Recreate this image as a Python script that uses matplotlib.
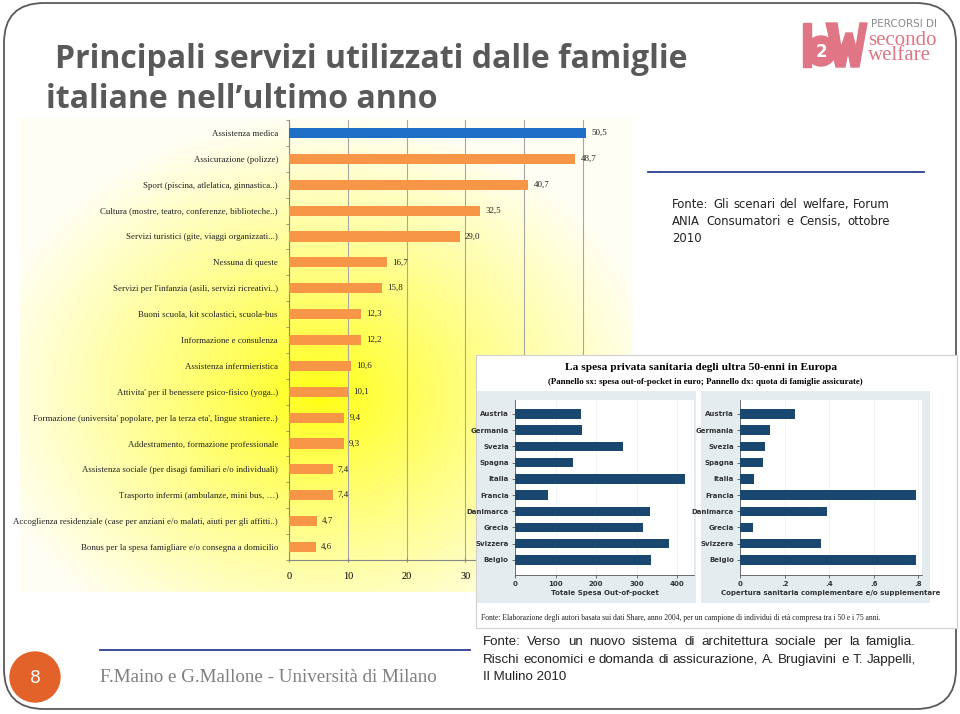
import matplotlib.pyplot as plt
import numpy as np
from matplotlib.patches import FancyBboxPatch, Rectangle, Circle, Polygon
from matplotlib.colors import to_rgb

W, H = 960, 714

# grafico principale (Censis/ANIA 2010)
servizi = [
    'Assistenza medica',
    'Assicurazione (polizze)',
    'Sport (piscina, atlelatica, ginnastica..)',
    'Cultura (mostre, teatro, conferenze, biblioteche..)',
    'Servizi turistici (gite, viaggi organizzati...)',
    'Nessuna di queste',
    "Servizi per l'infanzia (asili, servizi ricreativi..)",
    'Buoni scuola, kit scolastici, scuola-bus',
    'Informazione e consulenza',
    'Assistenza infermieristica',
    "Attivita' per il benessere psico-fisico (yoga..)",
    "Formazione (universita' popolare, per la terza eta', lingue straniere..)",
    'Addestramento, formazione professionale',
    'Assistenza sociale (per disagi familiari e/o individuali)',
    'Trasporto infermi (ambulanze, mini bus, \u2026)',
    'Accoglienza residenziale (case per anziani e/o malati, aiuti per gli affitti..)',
    'Bonus per la spesa famigliare e/o consegna a domicilio',
]
quote = [50.5, 48.7, 40.7, 32.5, 29.0, 16.7, 15.8, 12.3, 12.2, 10.6,
         10.1, 9.4, 9.3, 7.4, 7.4, 4.7, 4.6]

# inserto SHARE 2004
paesi = ['Austria', 'Germania', 'Svezia', 'Spagna', 'Italia', 'Francia',
         'Danimarca', 'Grecia', 'Svizzera', 'Belgio']
spesa_oop = [162, 164, 267, 142, 420, 81, 333, 316, 380, 334]
copertura = [0.246, 0.134, 0.114, 0.102, 0.063, 0.788, 0.391, 0.058, 0.363, 0.788]

fig = plt.figure(figsize=(9.6, 7.14), dpi=100)


def px_axes(x0, y0, x1, y1, **kw):
    return fig.add_axes([x0 / W, 1 - y1 / H, (x1 - x0) / W, (y1 - y0) / H], **kw)


def justify(ax, line, x0, x1, y, **kw):
    r = fig.canvas.get_renderer()
    ts = [ax.text(0, y, w, va='baseline', **kw) for w in line.split()]
    ws = [t.get_window_extent(r).width for t in ts]
    gap = (x1 - x0 - sum(ws)) / (len(ws) - 1)
    x = x0
    for t, w in zip(ts, ws):
        t.set_x(x)
        x += w + gap


base = px_axes(0, 0, W, H)
base.axis('off')

# sfondo giallo sfumato
gx, gy = np.meshgrid(np.arange(20, 632), np.arange(118, 592))
d = np.clip(np.sqrt(((gx - 320) / 340) ** 2 + ((gy - 395) / 280) ** 2), 0, 1) ** 0.85
yellow = np.array(to_rgb('#ffff10'))
cream = np.array(to_rgb('#fffef4'))
img = yellow * (1 - d[..., None]) + cream * d[..., None]
base.imshow(img, extent=(20, 632, 592, 118), aspect='auto', zorder=0)
base.set_xlim(0, W)
base.set_ylim(H, 0)

base.add_patch(FancyBboxPatch((4, 3), 952, 706, boxstyle='round,pad=0,rounding_size=40',
                              fc='none', ec='#5a5a5a', lw=1.3, zorder=5))

base.text(55, 60, 'Principali servizi utilizzati dalle famiglie', fontfamily='Open Sans',
          fontweight='bold', fontsize=23, color='#595959', va='center')
base.text(46, 99, 'italiane nell\u2019ultimo anno', fontfamily='Open Sans',
          fontweight='bold', fontsize=23, color='#595959', va='center')

# logo
pink = '#e07585'
base.add_patch(Rectangle((803, 23), 8, 44, color=pink))
base.add_patch(Circle((821, 51), 15, color=pink))
base.text(821, 52, '2', color='white', fontsize=12, fontweight='bold', ha='center', va='center')
base.add_patch(Polygon([(826, 23), (837, 23), (841, 48), (846, 33), (852, 33), (856, 48),
                        (860, 23), (867, 23), (859, 67), (851, 67), (849, 56), (847, 56),
                        (845, 67), (836, 67)], closed=True, color=pink))
base.text(871, 24, 'PERCORSI DI', color='#8a8a8a', fontsize=7.5, va='center')
base.text(868, 31, 'secondo\nwelfare', color=pink, fontsize=15, fontfamily='Liberation Serif',
          va='top', linespacing=0.75)

# fonte in alto a destra
base.plot([648, 924], [172, 172], color='#2b3f8f', lw=1.3)
kw = dict(fontfamily='DejaVu Sans', fontsize=8.4, color='#222222')
justify(base, 'Fonte: Gli scenari del welfare, Forum', 672, 890, 208, **kw)
justify(base, 'ANIA Consumatori e Censis, ottobre', 672, 890, 225, **kw)
base.text(672, 242, '2010', va='baseline', **kw)

# piè di pagina
base.add_patch(Circle((35, 677), 25, color='#e2622a'))
base.text(35, 678, '8', color='white', fontsize=12.5, ha='center', va='center')
base.plot([100, 470], [650, 650], color='#2b3f8f', lw=1.3)
base.text(100, 677, 'F.Maino e G.Mallone - Universit\u00e0 di Milano', fontfamily='Liberation Serif',
          fontsize=13.7, color='#7f7f7f', va='center')
kw = dict(fontfamily='Liberation Sans', fontsize=9.6, color='#222222')
justify(base, 'Fonte: Verso un nuovo sistema di architettura sociale per la famiglia.', 483, 916, 645, **kw)
justify(base, 'Rischi economici e domanda di assicurazione, A. Brugiavini e T. Jappelli,', 483, 916, 663, **kw)
base.text(483, 680, 'Il Mulino 2010', va='baseline', **kw)

# grafico principale
ax = px_axes(289, 120, 630, 560, zorder=1)
ax.set_facecolor('none')
y = np.arange(len(servizi))
colors = ['#1f6ec6'] + ['#f79646'] * (len(servizi) - 1)
ax.barh(y, quote, height=0.39, color=colors, zorder=3)
for i, v in enumerate(quote):
    ax.text(v + 0.9, i, f'{v:.1f}'.replace('.', ','), va='center', fontsize=6.5,
            fontfamily='Liberation Serif', color='#222222')
ax.set_ylim(len(servizi) - 0.5, -0.5)
ax.set_xlim(0, 58)
ax.set_xticks([0, 10, 20, 30, 40, 50])
ax.set_yticks(y, servizi, fontfamily='Liberation Serif', fontsize=6.4, color='#222222')
ax.set_yticks(np.arange(-0.5, len(servizi)), minor=True)
ax.tick_params(axis='y', which='major', length=0, pad=8)
ax.tick_params(axis='y', which='minor', length=2.5, color='#888888')
ax.tick_params(axis='x', length=3, color='#888888', labelsize=7.5, pad=7, direction='inout')
for lab in ax.get_xticklabels():
    lab.set_fontfamily('Liberation Serif')
ax.grid(axis='x', color='#a6a6a6', lw=0.8, zorder=1)
ax.set_axisbelow(True)
ax.spines[['top', 'right']].set_visible(False)
ax.spines[['left', 'bottom']].set_color('#888888')

# inserto
over = px_axes(0, 0, W, H, zorder=3)
over.axis('off')
over.set_xlim(0, W)
over.set_ylim(H, 0)
over.add_patch(Rectangle((476, 355), 481, 273, fc='white', ec='#d0d0d0', lw=0.8))
over.add_patch(Rectangle((477, 391), 219, 212, fc='#e4ecf0', ec='none'))
over.add_patch(Rectangle((701, 391), 229, 212, fc='#e4ecf0', ec='none'))
over.text(701, 368, 'La spesa privata sanitaria degli ultra 50-enni in Europa', ha='center',
          va='center', fontfamily='Liberation Serif', fontweight='bold', fontsize=8.2)
over.text(705, 382, '(Pannello sx: spesa out-of-pocket in euro; Pannello dx: quota di famiglie assicurate)',
          ha='center', va='center', fontfamily='Liberation Serif', fontweight='bold', fontsize=6.4)
over.text(481, 618, 'Fonte: Elaborazione degli autori basata sui dati Share, anno 2004, per un campione '
          'di individui di et\u00e0 compresa tra i 50 e i 75 anni.', va='center',
          fontfamily='Liberation Serif', fontsize=5.5, color='#222222')

panels = [
    ((515, 400, 694, 575), spesa_oop, 441, [0, 100, 200, 300, 400],
     ['0', '100', '200', '300', '400'], 'Totale Spesa Out-of-pocket'),
    ((740, 400, 922, 575), copertura, 0.817, [0, 0.2, 0.4, 0.6, 0.8],
     ['0', '.2', '.4', '.6', '.8'], 'Copertura sanitaria complementare e/o supplementare'),
]
for rect, vals, xmax, ticks, ticklabels, xlabel in panels:
    p = px_axes(*rect, zorder=4)
    p.set_facecolor('white')
    p.barh(np.arange(len(paesi)), vals, height=0.58, color='#1a476f', zorder=3)
    p.set_ylim(9.93, -0.86)
    p.set_xlim(0, xmax)
    p.set_xticks(ticks, ticklabels, fontsize=5, fontweight='bold', color='#333333')
    p.set_yticks(np.arange(len(paesi)), paesi, fontsize=5, fontweight='bold', color='#333333')
    p.tick_params(length=2.5, width=0.6, pad=2, color='#555555')
    p.set_xlabel(xlabel, fontsize=5, fontweight='bold', color='#333333', labelpad=2)
    p.grid(axis='x', color='#eef2f4', lw=0.6)
    p.set_axisbelow(True)
    p.spines[['top', 'right']].set_visible(False)
    p.spines[['left', 'bottom']].set_color('#555555')
    p.spines[['left', 'bottom']].set_linewidth(0.6)

fig.savefig('out.png', dpi=100)
